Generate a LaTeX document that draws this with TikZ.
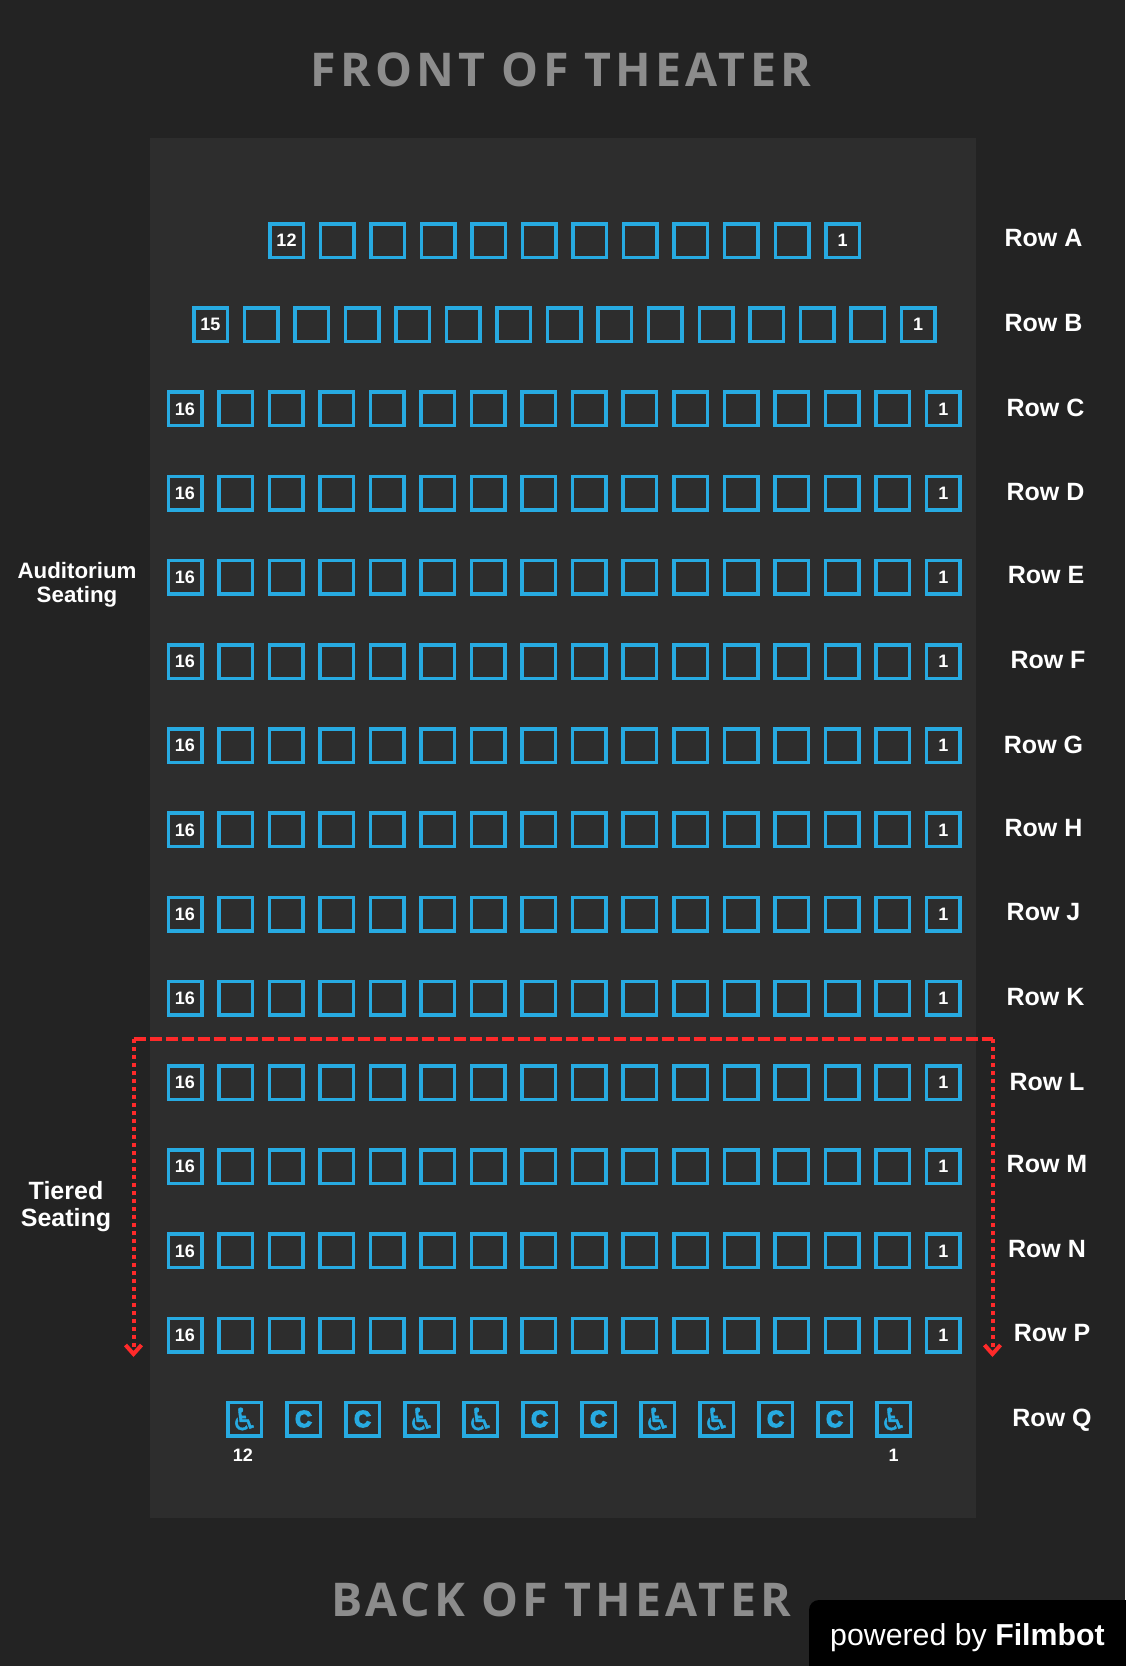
\documentclass[tikz,border=0pt]{standalone}
\usepackage{fontspec}
\setmainfont{Liberation Sans}
\newfontfamily\titlefont[LetterSpace=9]{Open Sans}
\newfontfamily\iconfont[FakeBold=1.2]{DejaVu Sans}
\newfontfamily\heavyfont[FakeBold=6]{Liberation Sans Bold}
\usepackage{xcolor}
\definecolor{hall}{HTML}{232323}
\definecolor{floorarea}{HTML}{2D2D2D}
\definecolor{seatblue}{HTML}{27AAE1}
\definecolor{tierred}{HTML}{FF2A2A}
\definecolor{titlegray}{HTML}{8C8C8C}
\usepackage{tikz}
\usetikzlibrary{arrows.meta}
\tikzset{
  seat/.style={draw=seatblue, line width=3.5pt, minimum size=33.5pt, inner sep=0pt,
               text=white, font=\bfseries\fontsize{18}{18}\selectfont},
  seaticon/.style={seat, text=seatblue},
  rowlabel/.style={text=white, font=\bfseries\fontsize{25}{25}\selectfont},
  sidelabel/.style={text=white, align=center, inner sep=0pt},
  titlelabel/.style={text=titlegray, font=\titlefont\bfseries\fontsize{46.5}{46.5}\selectfont},
  tierdash/.style={draw=tierred, line width=4pt, dash pattern=on 12pt off 4pt},
  tierdot/.style={draw=tierred, line width=4pt, dash pattern=on 4pt off 4pt,
                  -{Straight Barb[length=9pt,width=16pt,line width=4pt]}}
}

\begin{document}
\begin{tikzpicture}[x=1pt, y=-1pt]
  \useasboundingbox (0,0) rectangle (1125,1666);
  % nền
  \fill[hall] (0,0) rectangle (1125,1666);
  \fill[floorarea] (150,138) rectangle (976,1518);
  % tiêu đề
  \node[titlelabel] (front) at (561,70) {FRONT OF THEATER};
  \node[titlelabel] (back) at (561,1600) {BACK OF THEATER};
  % các hàng ghế: chỉ số/số ghế/x đầu hàng/tên/x nhãn/y nhãn
  \foreach \k/\n/\xs/\nm/\lx/\ly in {0/12/286.5/A/1043.5/238, 1/15/210.5/B/1043.5/323,
      2/16/185/C/1045.5/408, 3/16/185/D/1045.5/492, 4/16/185/E/1046/575,
      5/16/185/F/1048/660, 6/16/185/G/1043.5/745, 7/16/185/H/1043.5/828,
      8/16/185/J/1043.5/912, 9/16/185/K/1045.5/997, 10/16/185/L/1047/1082,
      11/16/185/M/1047/1164, 12/16/185/N/1047/1249, 13/16/185/P/1052/1333}{
    \foreach \i in {1,...,\n}{
      \node[seat] (seat\nm\i) at ({\xs+50.55*(\i-1)},{240.5+84.2*\k})
        {\ifnum\i=1 \n\else\ifnum\i=\n\relax 1\fi\fi};
    }
    \node[rowlabel] (row\nm) at (\lx,\ly) {Row \nm};
  }
  % hàng Q
  \foreach \i/\g in {1/W, 2/C, 3/C, 4/W, 5/W, 6/C, 7/C, 8/W, 9/W, 10/C, 11/C, 12/W}{
    \node[seaticon] (seatQ\i) at ({244.5+59*(\i-1)},1419)
      {\if C\g\heavyfont\fontsize{23}{23}\selectfont C\else\iconfont\mdseries\fontsize{31}{31}\selectfont\char"267F\fi};
  }
  \node[rowlabel] (rowQ) at (1052,1420) {Row Q};
  \node[text=white, font=\bfseries\fontsize{18}{18}\selectfont] (numQa) at (243,1455) {12};
  \node[text=white, font=\bfseries\fontsize{18}{18}\selectfont] (numQb) at (893.5,1455) {1};
  % nhãn hai khu
  \node[sidelabel, font=\bfseries\fontsize{22.3}{23.5}\selectfont] (audit) at (77,585) {Auditorium\\Seating};
  \node[sidelabel, font=\bfseries\fontsize{25}{27}\selectfont] (tiered) at (66,1207) {Tiered\\Seating};
  % ranh giới ghế bậc thang
  \coordinate (tierL) at (133.5,1039);
  \coordinate (tierR) at (992.5,1039);
  \coordinate (endL) at (133.5,1357);
  \coordinate (endR) at (992.5,1357);
  \draw[tierdash] (tierL) -- (tierR);
  \draw[tierdot] (tierL) -- (endL);
  \draw[tierdot] (tierR) -- (endR);
  % nhãn góc
  \fill[black, rounded corners=10pt] (809,1700) -- (809,1600) -- (1160,1600) -- (1160,1700) -- cycle;
  \node[text=white, anchor=base west, inner sep=0pt, font=\fontsize{30.3}{30}\selectfont] (brand)
    at (830,1645) {powered by \textbf{Filmbot}};
\end{tikzpicture}
\end{document}
